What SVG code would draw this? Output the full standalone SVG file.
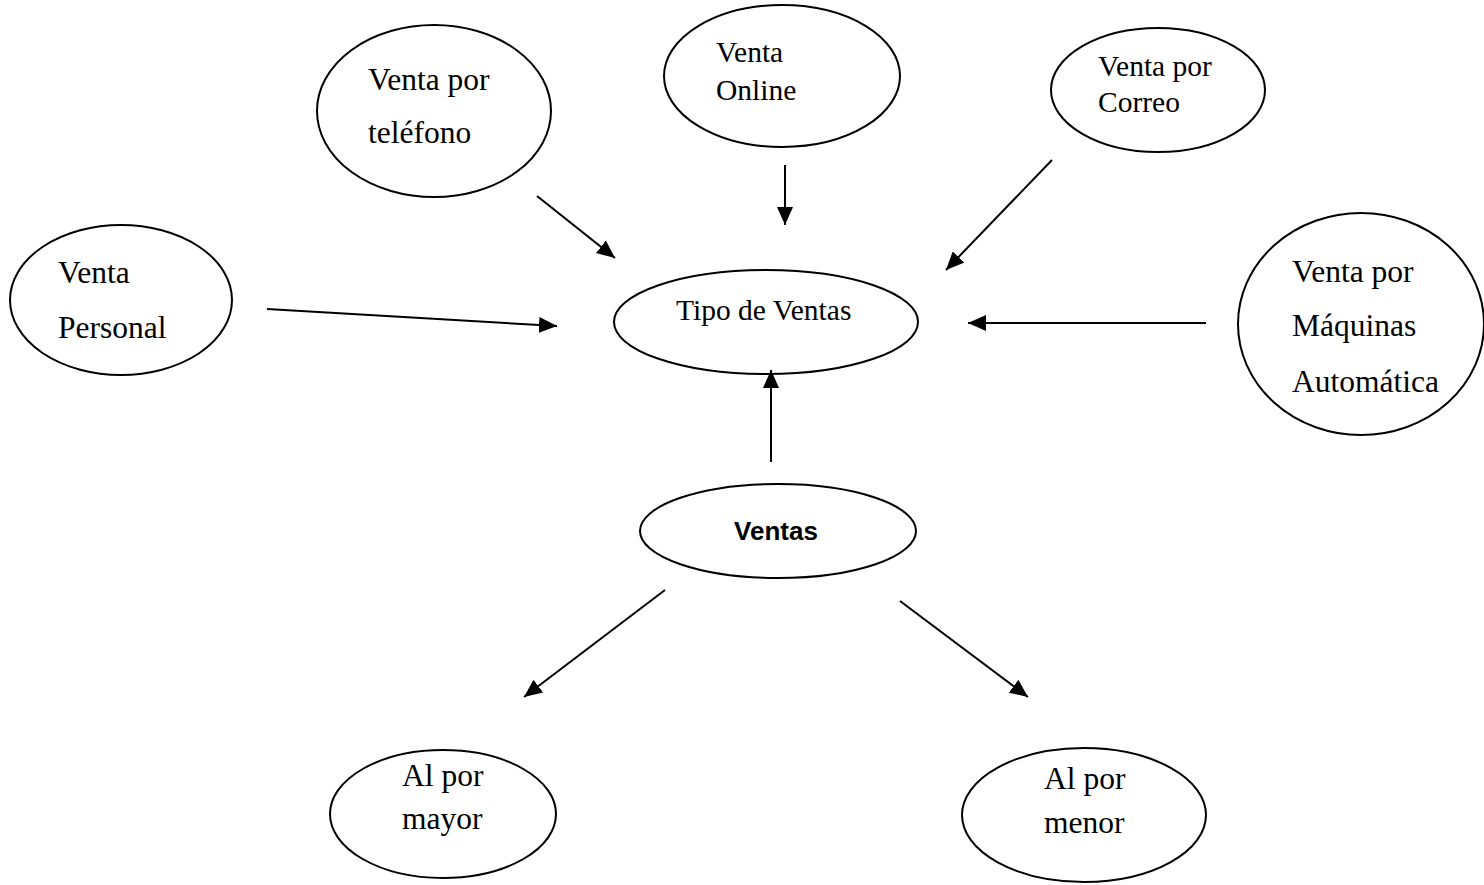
<svg xmlns="http://www.w3.org/2000/svg" width="1484" height="885" viewBox="0 0 1484 885">
<defs>
<style>
.n{fill:#fff;stroke:#000;stroke-width:2}
.t{font-family:"Liberation Serif","Times New Roman",serif;fill:#000}
.L{font-size:31.5px}
.S{font-size:29.5px}
.b{font-family:"Liberation Sans",Arial,sans-serif;font-weight:bold;fill:#000;font-size:26px}
.c{stroke:#000;stroke-width:2;fill:none;marker-end:url(#ah)}
</style>
<marker id="ah" markerUnits="userSpaceOnUse" markerWidth="20" markerHeight="16" refX="18" refY="8" orient="auto">
<path d="M0,0 L18,8 L0,16 Z" fill="#000"/>
</marker>
</defs>
<rect width="1484" height="885" fill="#fff"/>
<g id="personal"><ellipse class="n" cx="121" cy="300" rx="111" ry="75"/>
<text class="t L" x="58" y="283">Venta</text><text class="t L" x="58" y="338">Personal</text></g>
<g id="telefono"><ellipse class="n" cx="434" cy="111" rx="117" ry="86"/>
<text class="t L" x="368" y="90">Venta por</text><text class="t L" x="368" y="143">teléfono</text></g>
<g id="online"><ellipse class="n" cx="782" cy="76" rx="118" ry="71"/>
<text class="t S" x="716" y="62">Venta</text><text class="t S" x="716" y="100">Online</text></g>
<g id="correo"><ellipse class="n" cx="1158" cy="90" rx="107" ry="62"/>
<text class="t S" x="1098" y="76">Venta por</text><text class="t S" x="1098" y="112">Correo</text></g>
<g id="maquinas"><ellipse class="n" cx="1361" cy="324" rx="123" ry="111"/>
<text class="t L" x="1292" y="282">Venta por</text><text class="t L" x="1292" y="336">Máquinas</text><text class="t L" x="1292" y="392">Automática</text></g>
<g id="tipo"><ellipse class="n" cx="766" cy="322" rx="152" ry="52"/>
<text class="t S" x="676" y="320">Tipo de Ventas</text></g>
<g id="ventas"><ellipse class="n" cx="778" cy="531" rx="138" ry="47"/>
<text class="b" x="776" y="540" text-anchor="middle">Ventas</text></g>
<g id="mayor"><ellipse class="n" cx="443" cy="814" rx="113" ry="64"/>
<text class="t L" x="402" y="786">Al por</text><text class="t L" x="402" y="829">mayor</text></g>
<g id="menor"><ellipse class="n" cx="1084" cy="815" rx="122" ry="67"/>
<text class="t L" x="1044" y="789">Al por</text><text class="t L" x="1044" y="833">menor</text></g>
<g id="connectors">
<line class="c" x1="267" y1="309" x2="557" y2="326"/>
<line class="c" x1="537" y1="196" x2="615" y2="258"/>
<line class="c" x1="785" y1="165" x2="785" y2="225"/>
<line class="c" x1="1052" y1="160" x2="946" y2="270"/>
<line class="c" x1="1206" y1="323" x2="968" y2="323"/>
<line class="c" x1="771" y1="462" x2="771" y2="370"/>
<line class="c" x1="665" y1="590" x2="524" y2="697"/>
<line class="c" x1="900" y1="601" x2="1028" y2="697"/>
</g>
</svg>
